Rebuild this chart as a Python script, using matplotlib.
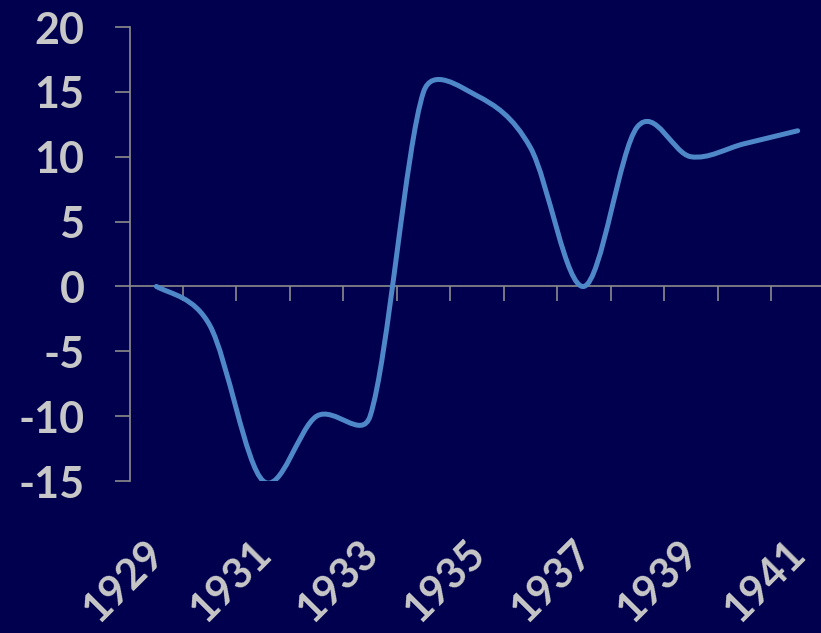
import numpy as np
import matplotlib
matplotlib.use("Agg")
import matplotlib.pyplot as plt
from matplotlib.path import Path
from matplotlib.patches import PathPatch

years = [1929, 1930, 1931, 1932, 1933, 1934, 1935, 1936, 1937, 1938, 1939, 1940, 1941]
values = [0, -3, -15, -10, -10, 15, 14.7, 10.7, 0, 12.3, 10, 11, 12]
label_years = ["1929", "1931", "1933", "1935", "1937", "1939", "1941"]
y_ticks = [-15, -10, -5, 0, 5, 10, 15, 20]

BG = "#00004f"
TXT = "#c8c8c8"
AX = "#8c8c8c"
LINE = "#4f88c8"

W, H = 821, 633
fig = plt.figure(figsize=(W / 100, H / 100), dpi=100, facecolor=BG)
ax = fig.add_axes([129.6 / W, 152 / H, 694.8 / W, 454 / H])
ax.set_facecolor(BG)

n = len(years)
ax.set_xlim(-0.5, n - 0.5)
ax.set_ylim(-15, 20)

# Excel-like smoothed line (Bezier) computed in display space
xs = np.arange(n)
pts = ax.transData.transform(np.column_stack([xs, values]))
verts = [pts[0]]
codes = [Path.MOVETO]


def ctrl(i):
    p1 = pts[i]
    if i == 0 or i == n - 1:
        return p1, p1
    p0, p2 = pts[i - 1], pts[i + 1]
    d01 = np.linalg.norm(p1 - p0)
    d12 = np.linalg.norm(p2 - p1)
    d02 = np.linalg.norm(p2 - p0)
    fl = min(1 / 6, d01 / (2 * d02)) if d02 > 0 else 0
    fr = min(1 / 6, d12 / (2 * d02)) if d02 > 0 else 0
    return p1 - (p2 - p0) * fl, p1 + (p2 - p0) * fr


cps = [ctrl(i) for i in range(n)]
for i in range(n - 1):
    a = cps[i][1]
    b = cps[i + 1][0]
    if i == 0:
        a = pts[0] + ((b - pts[0]) + (pts[1] - pts[0])) / 6
    if i == n - 2:
        b = pts[n - 1] + ((a - pts[n - 1]) + (pts[n - 2] - pts[n - 1])) / 6
    verts += [a, b, pts[i + 1]]
    codes += [Path.CURVE4] * 3
verts_data = ax.transData.inverted().transform(np.array(verts))
patch = PathPatch(Path(verts_data, codes), facecolor="none", edgecolor=LINE,
                  lw=3.6, capstyle="round", joinstyle="round", transform=ax.transData,
                  zorder=3)
ax.add_patch(patch)

# spines
for s in ["top", "right"]:
    ax.spines[s].set_visible(False)
ax.spines["left"].set_color(AX)
ax.spines["left"].set_linewidth(1.2)
ax.spines["bottom"].set_position(("data", 0))
ax.spines["bottom"].set_color(AX)
ax.spines["bottom"].set_linewidth(1.2)

ax.set_yticks(y_ticks)
ax.set_yticklabels([str(v) for v in y_ticks])
ax.tick_params(axis="y", direction="out", length=11, width=1.2, color=AX,
               pad=21.5, labelsize=31, labelcolor=TXT)
for lbl in ax.get_yticklabels():
    lbl.set_fontweight("bold")
    lbl.set_fontfamily("Lato")

ax.set_xticks(np.arange(n - 1) + 0.5)
ax.set_xticklabels([])
ax.tick_params(axis="x", direction="out", length=11, width=1.2, color=AX)

trans = ax.get_xaxis_transform()
for lab in label_years:
    i = years.index(int(lab))
    ax.text(i - 0.22, -0.117, lab, transform=trans, rotation=45, ha="right", va="top",
            rotation_mode="anchor", fontsize=30, fontweight="bold", color=TXT,
            family="Lato", clip_on=False)

fig.savefig("out.png", dpi=100, facecolor=BG)
